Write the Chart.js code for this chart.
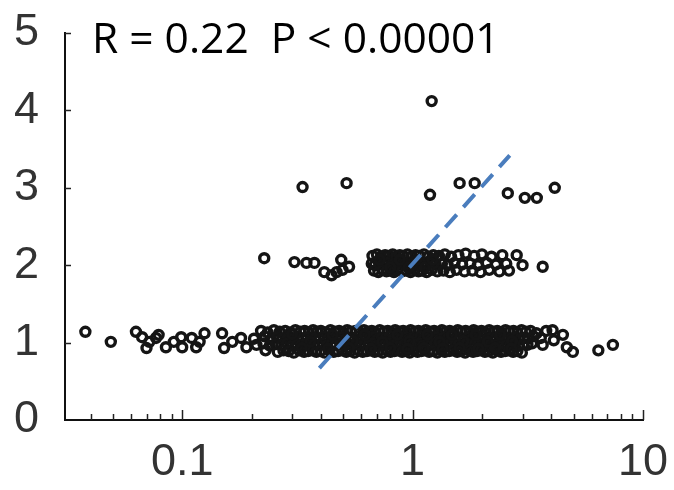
<!DOCTYPE html>
<html>
<head>
<meta charset="utf-8">
<script src="https://cdn.jsdelivr.net/npm/chart.js@4.4.1/dist/chart.umd.min.js"></script>
<style>
  html, body { margin: 0; padding: 0; background: #fff; }
  canvas { display: block; }
</style>
</head>
<body>
<canvas id="scatterChart" width="674" height="490"></canvas>
<script>
// points, [x, y]
const row1Left = [
  [0.038,1.14],[0.049,1.01],[0.063,1.14],[0.067,1.07],[0.072,1.01],[0.077,1.06],[0.07,0.93],
  [0.079,1.1],[0.085,0.94],[0.092,1.01],[0.099,1.07],[0.1,0.94],[0.11,1.06],[0.115,0.94],
  [0.119,1.01],[0.125,1.12],[0.149,1.12],[0.152,0.93],[0.165,1.01],[0.18,1.06],[0.19,0.94]
];
const row1Dense = [
  [0.22,1.15],[0.235,1.13],[0.25,1.16],[0.265,1.14],[0.28,1.15],[0.295,1.13],[0.31,1.16],[0.325,1.14],
  [0.34,1.15],[0.355,1.13],[0.37,1.16],[0.385,1.14],[0.4,1.15],[0.42,1.13],[0.44,1.16],[0.46,1.14],
  [0.48,1.15],[0.5,1.13],[0.52,1.16],[0.54,1.14],[0.565,1.15],[0.59,1.13],[0.615,1.16],[0.64,1.14],
  [0.665,1.15],[0.69,1.13],[0.72,1.16],[0.75,1.14],[0.78,1.15],[0.81,1.13],[0.84,1.16],[0.875,1.14],
  [0.91,1.15],[0.945,1.13],[0.98,1.16],[1.02,1.14],[1.06,1.15],[1.1,1.13],[1.14,1.16],[1.19,1.14],
  [1.24,1.15],[1.29,1.13],[1.34,1.16],[1.39,1.14],[1.45,1.15],[1.51,1.13],[1.57,1.16],[1.63,1.14],
  [1.7,1.15],[1.77,1.13],[1.84,1.16],[1.91,1.14],[1.99,1.15],[2.07,1.13],[2.15,1.16],[2.24,1.14],
  [2.33,1.15],[2.43,1.13],[2.53,1.16],[2.63,1.14],[2.74,1.15],[2.85,1.13],[2.97,1.16],[3.1,1.14],
  [3.25,1.15],[3.45,1.12],[3.8,1.15],[4.05,1.16],
  [0.205,1.05],[0.228,1.08],[0.243,1.04],[0.258,1.07],[0.272,1.05],[0.288,1.06],[0.302,1.04],[0.318,1.08],
  [0.333,1.05],[0.348,1.07],[0.362,1.04],[0.378,1.06],[0.392,1.05],[0.41,1.08],[0.43,1.04],[0.45,1.06],
  [0.47,1.05],[0.49,1.07],[0.51,1.04],[0.53,1.06],[0.552,1.05],[0.577,1.08],[0.602,1.04],[0.628,1.06],
  [0.652,1.05],[0.678,1.07],[0.705,1.04],[0.735,1.06],[0.765,1.05],[0.795,1.08],[0.825,1.04],[0.858,1.06],
  [0.892,1.05],[0.928,1.07],[0.962,1.04],[1.0,1.06],[1.04,1.05],[1.08,1.08],[1.12,1.04],[1.165,1.06],
  [1.215,1.05],[1.265,1.07],[1.315,1.04],[1.365,1.06],[1.42,1.05],[1.48,1.08],[1.54,1.04],[1.6,1.06],
  [1.665,1.05],[1.735,1.07],[1.805,1.04],[1.875,1.06],[1.95,1.05],[2.03,1.08],[2.11,1.04],[2.195,1.06],
  [2.285,1.05],[2.38,1.07],[2.48,1.04],[2.58,1.06],[2.68,1.05],[2.8,1.07],[2.91,1.04],[3.03,1.06],
  [3.17,1.05],[3.35,1.08],[3.6,1.06],
  [0.21,0.97],[0.225,0.99],[0.24,0.96],[0.255,0.98],[0.27,0.97],[0.285,0.99],[0.3,0.96],[0.315,0.98],
  [0.33,0.97],[0.345,0.99],[0.36,0.96],[0.375,0.98],[0.39,0.97],[0.405,0.99],[0.425,0.96],[0.445,0.98],
  [0.465,0.97],[0.485,0.99],[0.505,0.96],[0.525,0.98],[0.545,0.97],[0.57,0.99],[0.595,0.96],[0.62,0.98],
  [0.645,0.97],[0.67,0.99],[0.7,0.96],[0.73,0.98],[0.76,0.97],[0.79,0.99],[0.82,0.96],[0.85,0.98],
  [0.885,0.97],[0.92,0.99],[0.955,0.96],[0.99,0.98],[1.03,0.97],[1.07,0.99],[1.11,0.96],[1.155,0.98],
  [1.2,0.97],[1.25,0.99],[1.3,0.96],[1.355,0.98],[1.41,0.97],[1.47,0.99],[1.53,0.96],[1.59,0.98],
  [1.655,0.97],[1.72,0.99],[1.79,0.96],[1.86,0.98],[1.935,0.97],[2.01,0.99],[2.09,0.96],[2.18,0.98],
  [2.27,0.97],[2.36,0.99],[2.46,0.96],[2.56,0.98],[2.67,0.97],[2.78,0.99],[2.9,0.96],[3.02,0.98],
  [3.15,0.97],[3.3,0.99],
  [0.23,0.9],[0.26,0.88],[0.275,0.9],[0.29,0.89],[0.305,0.87],[0.322,0.9],[0.338,0.88],[0.352,0.89],
  [0.368,0.9],[0.382,0.88],[0.398,0.89],[0.415,0.87],[0.435,0.9],[0.455,0.88],[0.475,0.89],[0.495,0.9],
  [0.515,0.88],[0.537,0.89],[0.56,0.87],[0.583,0.9],[0.608,0.88],[0.633,0.89],[0.658,0.9],[0.685,0.88],
  [0.712,0.89],[0.742,0.87],[0.772,0.9],[0.802,0.88],[0.835,0.89],[0.868,0.9],[0.9,0.88],[0.937,0.89],
  [0.972,0.87],[1.01,0.9],[1.05,0.88],[1.09,0.89],[1.13,0.9],[1.18,0.88],[1.23,0.89],[1.28,0.87],
  [1.33,0.9],[1.38,0.88],[1.44,0.89],[1.5,0.9],[1.56,0.88],[1.62,0.89],[1.69,0.87],[1.76,0.9],
  [1.83,0.88],[1.9,0.89],[1.98,0.9],[2.06,0.88],[2.14,0.89],[2.23,0.87],[2.32,0.9],[2.42,0.88],
  [2.52,0.89],[2.62,0.9],[2.73,0.88],[2.85,0.89],[2.98,0.87],
  [0.3,1.11],[0.36,1.01],[0.45,1.1],[0.55,1.02],[0.62,1.1],[0.74,1.01],[0.86,1.1],[0.97,1.02],
  [1.16,1.1],[1.31,1.01],[1.48,1.1],[1.66,1.02],[1.88,1.1],[2.12,1.01],[2.4,1.1],[2.7,1.02],
  [0.33,0.93],[0.43,0.92],[0.53,0.93],[0.66,0.92],[0.8,0.93],[0.95,0.92],[1.12,0.93],[1.35,0.92],
  [1.6,0.93],[1.93,0.92],[2.28,0.93],[2.68,0.92]
];
const row1Right = [[3.67,0.97],[4.1,1.03],[4.49,1.1],[4.67,0.94],[4.96,0.88],[6.4,0.9],[7.4,0.97]];
const row2Left = [
  [0.227,2.09],[0.307,2.04],[0.346,2.03],[0.375,2.03],[0.414,1.91],[0.445,1.87],[0.468,1.91],
  [0.49,2.07],[0.496,1.94],[0.53,1.98]
];
const row2Dense = [
  [0.67,2.12],[0.7,2.14],[0.73,2.11],[0.76,2.13],[0.79,2.12],[0.82,2.14],[0.85,2.11],[0.88,2.13],
  [0.91,2.12],[0.95,2.14],[0.99,2.11],[1.03,2.13],[1.07,2.12],[1.12,2.14],[1.17,2.11],[1.23,2.13],
  [1.3,2.12],[1.38,2.14],[1.47,2.11],[1.58,2.13],[1.7,2.15],[1.85,2.12],[2.0,2.14],[2.2,2.11],
  [2.45,2.13],[2.83,2.13],
  [0.665,2.02],[0.685,2.0],[0.715,2.03],[0.745,2.01],[0.775,2.03],[0.805,2.0],[0.835,2.02],[0.865,2.03],
  [0.895,2.01],[0.93,2.02],[0.97,2.0],[1.01,2.03],[1.05,2.01],[1.095,2.02],[1.145,2.0],[1.2,2.03],
  [1.26,2.01],[1.34,2.02],[1.42,2.0],[1.52,2.03],[1.64,2.01],[1.78,2.02],[1.92,2.0],[2.1,2.03],
  [2.3,2.01],[2.55,2.02],[3.0,2.0],[3.67,1.98],
  [0.68,1.93],[0.71,1.91],[0.74,1.94],[0.77,1.92],[0.8,1.93],[0.83,1.91],[0.86,1.94],[0.9,1.92],
  [0.94,1.93],[0.98,1.91],[1.02,1.94],[1.06,1.92],[1.1,1.93],[1.15,1.91],[1.21,1.94],[1.28,1.92],
  [1.36,1.93],[1.45,1.91],[1.55,1.94],[1.68,1.92],[1.82,1.93],[1.97,1.91],[2.15,1.94],[2.38,1.92],
  [2.62,1.93],
  [0.72,2.07],[0.8,1.97],[0.88,2.07],[0.96,1.97],[1.04,2.07],[1.13,1.97],[1.22,2.07]
];
const row3 = [
  [0.333,3.01],[0.517,3.06],[1.19,2.91],[1.6,3.06],[1.86,3.06],[2.59,2.93],[3.07,2.87],[3.46,2.87],[4.14,3.0]
];
const row4 = [[1.21,4.12]];
const fitLine = [[0.394,0.67],[2.64,3.42]];

const xTicks = [0.04,0.05,0.06,0.07,0.08,0.09,0.1,0.2,0.3,0.4,0.5,0.6,0.7,0.8,0.9,1,2,3,4,5,6,7,8,9,10];
const xLabeled = [0.1, 1, 10];
const yTicks = [0, 1, 2, 3, 4, 5];
const annotation = 'R = 0.22  P < 0.00001';

const toXY = arr => arr.map(p => ({ x: p[0], y: p[1] }));
const allPoints = [].concat(row1Left, row1Dense, row1Right, row2Left, row2Dense, row3, row4);

// inside tick marks + text label
const extrasPlugin = {
    id: 'extras',
    afterDraw(chart) {
        const ctx = chart.ctx;
        const xs = chart.scales.x, ys = chart.scales.y;
        const bottom = chart.chartArea.bottom, left = chart.chartArea.left;
        ctx.save();
        ctx.strokeStyle = '#222';
        ctx.lineWidth = 1.5;
        xTicks.forEach(v => {
            const px = Math.round(xs.getPixelForValue(v)) + 0.5;
            const len = xLabeled.includes(v) ? 10 : 6;
            ctx.beginPath();
            ctx.moveTo(px, bottom);
            ctx.lineTo(px, bottom - len);
            ctx.stroke();
        });
        yTicks.slice(1).forEach(v => {
            const py = Math.round(ys.getPixelForValue(v)) + 0.5;
            ctx.beginPath();
            ctx.moveTo(left, py);
            ctx.lineTo(left + 6, py);
            ctx.stroke();
        });
        // label
        let size = 38;
        ctx.font = size + 'px "Open Sans"';
        size = size * 408 / ctx.measureText(annotation).width;
        ctx.font = size.toFixed(1) + 'px "Open Sans"';
        ctx.fillStyle = '#000';
        ctx.textBaseline = 'alphabetic';
        ctx.fillText(annotation, 92, 53);
        ctx.restore();
    }
};

const ctx = document.getElementById('scatterChart').getContext('2d');
new Chart(ctx, {
    type: 'scatter',
    data: {
        datasets: [
            {
                data: toXY(fitLine),
                showLine: true,
                borderColor: '#4a7dbd',
                borderWidth: 4,
                borderDash: [17, 10],
                pointRadius: 0
            },
            {
                data: toXY(allPoints),
                pointStyle: 'circle',
                pointRadius: 4.5,
                pointBorderWidth: 3.4,
                pointBorderColor: '#151515',
                pointBackgroundColor: 'rgba(0,0,0,0)'
            }
        ]
    },
    options: {
        responsive: false,
        animation: false,
        events: [],
        layout: { padding: { top: 33, right: 31, left: 0, bottom: 0 } },
        scales: {
            x: {
                type: 'logarithmic',
                min: 0.031,
                max: 10,
                afterBuildTicks: scale => {
                    scale.ticks = xTicks.map(v => ({ value: v }));
                },
                afterFit: scale => {
                    scale.height = 70;
                    scale.paddingLeft = 0;
                    scale.paddingRight = 0;
                },
                grid: { display: false },
                border: { display: true, color: '#111', width: 2 },
                ticks: {
                    autoSkip: false,
                    maxRotation: 0,
                    padding: 8,
                    color: '#333',
                    font: { family: '"Liberation Sans", Arial', size: 45 },
                    callback: v => xLabeled.includes(v) ? String(v) : ''
                }
            },
            y: {
                min: 0,
                max: 5,
                afterBuildTicks: scale => {
                    scale.ticks = yTicks.map(v => ({ value: v }));
                },
                afterFit: scale => {
                    scale.width = 65;
                    scale.paddingTop = 0;
                    scale.paddingBottom = 0;
                },
                grid: { display: false },
                border: { display: true, color: '#111', width: 2 },
                ticks: {
                    padding: 18,
                    color: '#333',
                    font: { family: '"Liberation Sans", Arial', size: 45 }
                }
            }
        },
        plugins: {
            legend: { display: false },
            tooltip: { enabled: false },
            title: { display: false }
        }
    },
    plugins: [extrasPlugin]
});
</script>
</body>
</html>
